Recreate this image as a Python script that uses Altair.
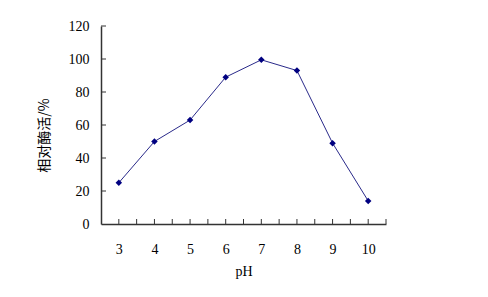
import altair as alt
import pandas as pd

ph = [3, 4, 5, 6, 7, 8, 9, 10]
activity = [25, 50, 63, 89, 99.5, 93, 49, 14]
x_tick_pos = [3.0, 3.5, 4.0, 4.5, 5.0, 5.5, 6.0, 6.5, 7.0, 7.5, 8.0, 8.5, 9.0, 9.5, 10.0, 10.5]
y_tick_pos = [20, 40, 60, 80, 100, 120]
x_labels = [3, 4, 5, 6, 7, 8, 9, 10]
y_labels = [0, 20, 40, 60, 80, 100, 120]

df = pd.DataFrame({"pH": ph, "act": activity})
xt = pd.DataFrame({"v": x_tick_pos})
yt = pd.DataFrame({"v": y_tick_pos})

axis_color = "#333333"
navy = "#000080"
xscale = alt.Scale(domain=[2.5, 10.5], nice=False, zero=False)
yscale = alt.Scale(domain=[0, 120], nice=False)

x_axis = alt.Axis(
    values=x_labels, ticks=False, tickSize=0, grid=False, domainColor=axis_color,
    domainWidth=1.5, labelFont="Liberation Serif", labelFontSize=14, labelColor="#000",
    labelPadding=18, labelOverlap=False, title="pH", titleFont="Liberation Serif",
    titleFontSize=14, titleFontWeight="normal", titleColor="#000", titlePadding=8,
)
y_axis = alt.Axis(
    values=y_labels, ticks=False, tickSize=0, grid=False, domainColor=axis_color,
    domainWidth=1.5, labelFont="Liberation Serif", labelFontSize=14, labelColor="#000",
    labelPadding=12, labelOverlap=False, title="相对酶活/%", titleFont="Noto Sans CJK SC",
    titleFontSize=14, titleFontWeight="normal", titleColor="#000", titleAngle=270,
    titleAlign="center", titleBaseline="middle", titleX=-57, titleY=109,
)

line = alt.Chart(df).mark_line(color="#2a2a8a", strokeWidth=1).encode(
    x=alt.X("pH:Q", scale=xscale, axis=x_axis),
    y=alt.Y("act:Q", scale=yscale, axis=y_axis),
)
pts = alt.Chart(df).mark_point(shape="diamond", filled=True, size=42, color=navy, opacity=1).encode(
    x=alt.X("pH:Q", scale=xscale, axis=x_axis),
    y=alt.Y("act:Q", scale=yscale, axis=y_axis),
)
xticks = alt.Chart(xt).mark_rule(color=axis_color, strokeWidth=1, y2Offset=-5).encode(
    x=alt.X("v:Q", scale=xscale, axis=x_axis),
    y=alt.datum(0, scale=yscale, axis=y_axis),
    y2=alt.datum(0),
)
yticks = alt.Chart(yt).mark_rule(color=axis_color, strokeWidth=1, x2Offset=5).encode(
    y=alt.Y("v:Q", scale=yscale, axis=y_axis),
    x=alt.datum(2.5, scale=xscale, axis=x_axis),
    x2=alt.datum(2.5),
)

chart = alt.layer(line, xticks, yticks, pts).properties(
    width=285, height=198,
    background="white",
    autosize=alt.AutoSizeParams(type="none"),
    padding={"left": 101, "top": 26, "right": 102, "bottom": 73},
).configure_view(stroke=None).configure_axis(labelOverlap=False)

chart.save("out.html", embed_options={"renderer": "svg", "actions": False})
